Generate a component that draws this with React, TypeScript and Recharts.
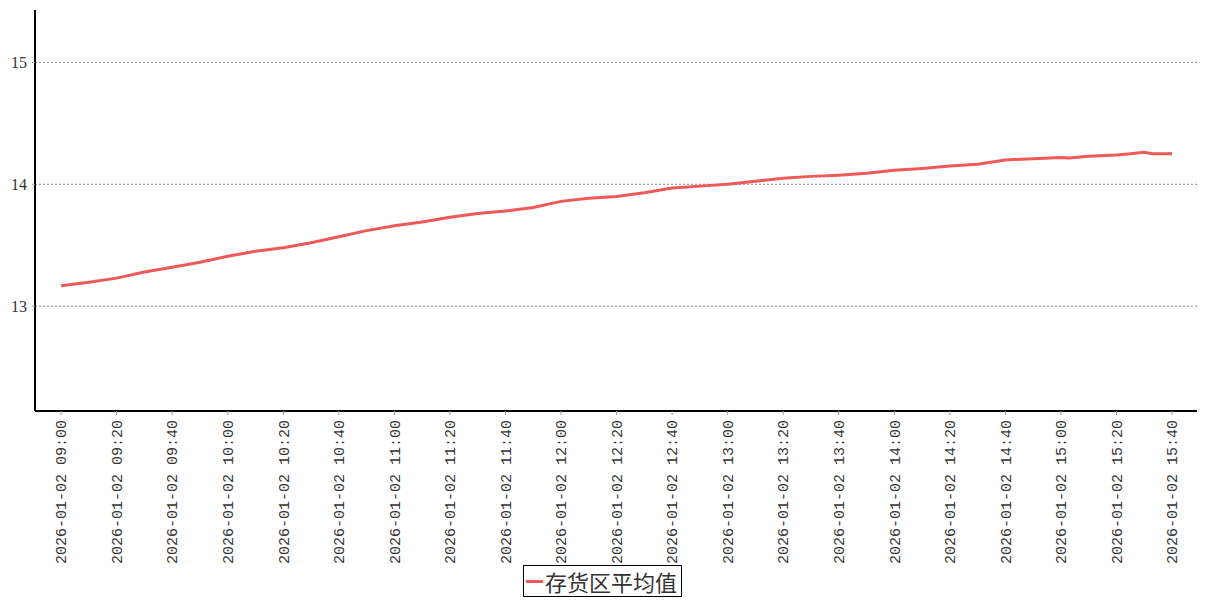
import { LineChart, Line, XAxis, YAxis, CartesianGrid, Legend } from 'recharts';

const times = [
  '09:00', '09:10', '09:20', '09:30', '09:40', '09:50', '10:00', '10:10', '10:20', '10:30',
  '10:40', '10:50', '11:00', '11:10', '11:20', '11:30', '11:40', '11:50', '12:00', '12:10',
  '12:20', '12:30', '12:40', '12:50', '13:00', '13:10', '13:20', '13:30', '13:40', '13:50',
  '14:00', '14:10', '14:20', '14:30', '14:40', '14:50', '15:00', '15:03', '15:10', '15:20',
  '15:25', '15:30', '15:33', '15:40',
];
const avgValues = [
  13.168, 13.197, 13.23, 13.28, 13.32, 13.36, 13.41, 13.45, 13.48, 13.52,
  13.57, 13.62, 13.66, 13.69, 13.73, 13.76, 13.78, 13.81, 13.86, 13.885,
  13.9, 13.93, 13.97, 13.985, 14.0, 14.025, 14.05, 14.065, 14.075, 14.09,
  14.115, 14.13, 14.15, 14.165, 14.2, 14.21, 14.22, 14.215, 14.23, 14.24,
  14.25, 14.262, 14.25, 14.25,
];
const xTicks = [0, 20, 40, 60, 80, 100, 120, 140, 160, 180, 200, 220, 240, 260, 280, 300, 320, 340, 360, 380, 400];
const yTicks = [13, 14, 15];
const seriesName = '存货区平均值';
const datePrefix = '2026-01-02';

const toMinutes = (t: string) => {
  const [h, m] = t.split(':').map(Number);
  return (h - 9) * 60 + m;
};

const fmtTime = (min: number) => {
  const total = 9 * 60 + min;
  const h = String(Math.floor(total / 60)).padStart(2, '0');
  const m = String(total % 60).padStart(2, '0');
  return `${datePrefix} ${h}:${m}`;
};

const data = times.map((t, i) => ({ t: toMinutes(t), value: avgValues[i] }));

const RED = '#ee5959';

function XTick({ x, y, payload }: any) {
  return (
    <g transform={`translate(${x},${y})`}>
      <text
        transform="rotate(-90)"
        x={-3}
        y={0}
        dy="0.35em"
        textAnchor="end"
        fill="#333"
        fontSize={15}
        fontFamily="'Liberation Mono', monospace"
      >
        {fmtTime(payload.value)}
      </text>
    </g>
  );
}

function LegendBox() {
  return (
    <div style={{ display: 'flex', justifyContent: 'center' }}>
      <div
        style={{
          display: 'flex',
          alignItems: 'center',
          border: '1px solid #000',
          height: 30,
          padding: '0 4px 0 2px',
          background: '#fff',
        }}
      >
        <span style={{ display: 'inline-block', width: 17, height: 3, background: RED, marginRight: 2 }} />
        <span style={{ fontSize: 22, color: '#333', fontFamily: "'Noto Sans CJK SC', sans-serif", lineHeight: '30px' }}>
          {seriesName}
        </span>
      </div>
    </div>
  );
}

export default function App() {
  return (
    <LineChart
      width={1191}
      height={590}
      data={data}
      margin={{ top: 2, right: 2, bottom: 0, left: 0 }}
      style={{ fontFamily: "'Liberation Serif', serif" }}
    >
      <CartesianGrid
        horizontal
        vertical={false}
        horizontalValues={yTicks}
        stroke="#888"
        strokeDasharray="2 2"
      />
      <XAxis
        dataKey="t"
        type="number"
        domain={[-9.4, 409]}
        ticks={xTicks}
        interval={0}
        height={154}
        tick={<XTick />}
        tickSize={4}
        tickLine={{ stroke: '#999' }}
        axisLine={{ stroke: '#000', strokeWidth: 2 }}
      />
      <YAxis
        type="number"
        domain={[12.14, 15.43]}
        ticks={yTicks}
        width={27}
        tickSize={3}
        tickMargin={5}
        tick={{ fill: '#333', fontSize: 16, fontFamily: "'Liberation Serif', serif" }}
        tickLine={{ stroke: '#999' }}
        axisLine={{ stroke: '#000', strokeWidth: 2 }}
        allowDataOverflow
      />
      <Legend verticalAlign="bottom" height={33} content={<LegendBox />} />
      <Line
        type="linear"
        dataKey="value"
        name={seriesName}
        stroke={RED}
        strokeWidth={3}
        dot={false}
        isAnimationActive={false}
      />
    </LineChart>
  );
}
